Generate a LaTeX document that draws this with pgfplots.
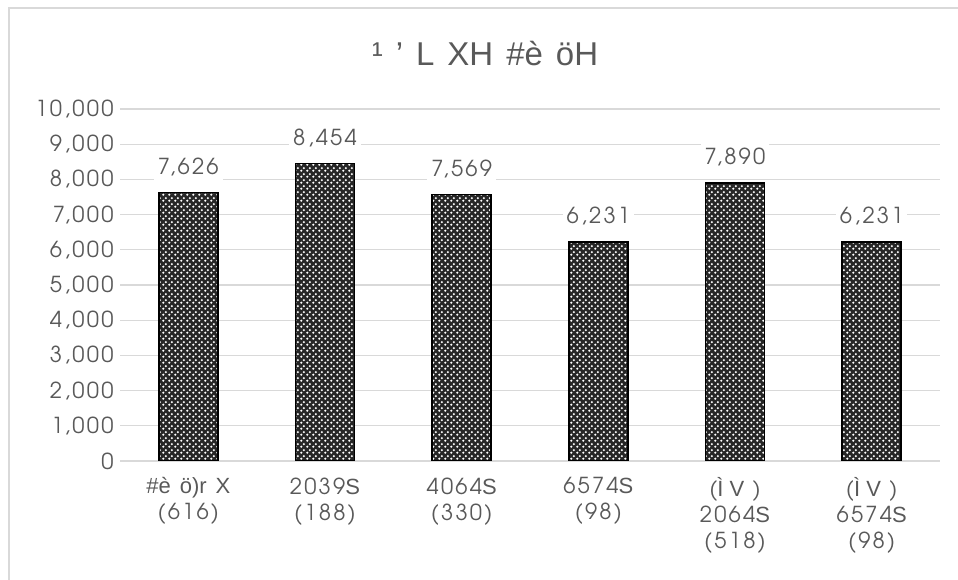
\documentclass[border=0pt]{standalone}
\usepackage{fontspec}
\setmainfont{texgyreadventor-regular.otf}[LetterSpace=10]
\newfontfamily\arial{Liberation Sans}
\usepackage{pgfplots}
\pgfplotsset{compat=1.18}
\usetikzlibrary{patterns}
\definecolor{txtgray}{HTML}{595959}
\definecolor{gridgray}{HTML}{D9D9D9}
\pgfdeclarepatternformonly{bigdots}{\pgfpointorigin}{\pgfqpoint{6pt}{6pt}}{\pgfqpoint{6pt}{6pt}}{%
  \pgfpathcircle{\pgfqpoint{1.5pt}{1.5pt}}{1.4pt}%
  \pgfpathcircle{\pgfqpoint{4.5pt}{4.5pt}}{1.4pt}%
  \pgfusepath{fill}}
\begin{document}
\begin{tikzpicture}[x=1pt,y=1pt]
\useasboundingbox (0,0) rectangle (958,580);
\draw[line width=1.5pt, gridgray] (9,-5) -- (9,572) -- (965,572);
\node[font=\arial\fontsize{33}{38}\selectfont, text=txtgray, anchor=base] at (485,514)
  {\spaceskip=13pt ¹ ’ L XH \#è öH};
\begin{axis}[
  at={(120pt,119pt)}, anchor=south west,
  scale only axis, width=820pt, height=352pt,
  ybar, bar width=59pt,
  xmin=-0.5, xmax=5.5, ymin=0, ymax=10000,
  ytick={0,1000,...,10000}, xtick={0,...,5},
  scaled y ticks=false,
  /pgf/number format/1000 sep={,},
  /pgf/number format/assume math mode=true,
  xticklabels={
    {{\arial\spaceskip=9pt \#è ö)r X}\\(616)},
    {2039{\arial S}\\(188)},
    {4064{\arial S}\\(330)},
    {6574{\arial S}\\(98)},
    {({\arial Ì V} )\\2064{\arial S}\\(518)},
    {({\arial Ì V} )\\6574{\arial S}\\(98)}},
  ymajorgrids, grid style={line width=1.2pt, gridgray},
  axis x line*=bottom, axis y line*=left,
  x axis line style={-, line width=1.2pt, gridgray},
  y axis line style={draw=none},
  major tick length=0pt, tick style={draw=none},
  yticklabel style={font=\fontsize{22}{25}\selectfont, text=txtgray, xshift=-3pt},
  xticklabel style={font=\fontsize{22}{26}\selectfont, text=txtgray, align=center, yshift=-13pt},
  nodes near coords,
  every node near coord/.append style={font=\fontsize{22}{25}\selectfont, text=txtgray,
    fill=white, inner xsep=4pt, inner ysep=6pt, anchor=south, yshift=10pt},
]
\addplot[draw=black, line width=1.8pt, fill=black!85,
  postaction={pattern=bigdots, pattern color=white}]
  coordinates {(0,7626) (1,8454) (2,7569) (3,6231) (4,7890) (5,6231)};
\end{axis}
\end{tikzpicture}
\end{document}
